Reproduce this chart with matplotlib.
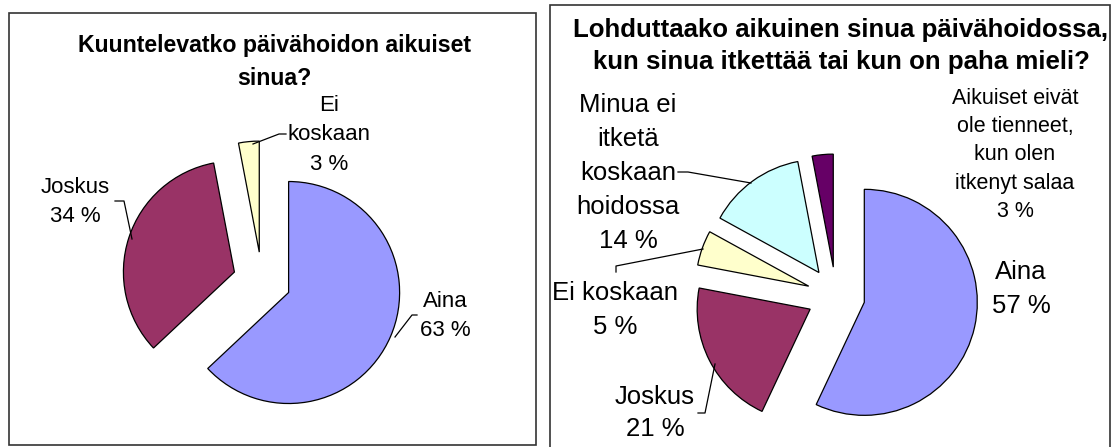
import numpy as np
import matplotlib
matplotlib.use("Agg")
import matplotlib.pyplot as plt
from matplotlib.patches import Rectangle

plt.rcParams['font.family'] = ['Liberation Sans', 'DejaVu Sans']

W, H = 1118, 447

# left chart: "Kuuntelevatko päivähoidon aikuiset sinua?"
left_labels = ["Aina", "Joskus", "Ei\nkoskaan"]
left_values = [63, 34, 3]
left_colors = ["#9999FF", "#993366", "#FFFFCC"]

# right chart: "Lohduttaako aikuinen sinua ..."
right_labels = ["Aina", "Joskus", "Ei koskaan",
                "Minua ei\nitketä\nkoskaan\nhoidossa",
                "Aikuiset eivät\nole tienneet,\nkun olen\nitkenyt salaa"]
right_values = [57, 21, 5, 14, 3]
right_colors = ["#9999FF", "#993366", "#FFFFCC", "#CCFFFF", "#660066"]

fig = plt.figure(figsize=(W / 100, H / 100), dpi=100)
ax = fig.add_axes([0, 0, 1, 1])


def Y(y):
    # pixel row (from top) -> data y
    return H - y


wp = dict(edgecolor="black", linewidth=0.9)
ax.pie(left_values, colors=left_colors, startangle=90, counterclock=False,
       radius=111, center=(262, Y(281)), explode=[29] * 3, wedgeprops=wp,
       frame=True)
ax.pie(right_values, colors=right_colors, startangle=90, counterclock=False,
       radius=113, center=(836, Y(296)), explode=[29] * 5, wedgeprops=wp,
       frame=True)

ax.set_xlim(0, W)
ax.set_ylim(0, H)
ax.set_aspect("equal")
ax.axis("off")

# panel borders
ax.add_patch(Rectangle((9, Y(445)), 527, 432, fill=False, edgecolor="#333333", lw=1.2))
ax.add_patch(Rectangle((550, Y(460)), 560, 455, fill=False, edgecolor="#333333", lw=1.2,
                       clip_on=False))

# titles
ax.text(274, Y(62), "Kuuntelevatko päivähoidon aikuiset\nsinua?", ha="center",
        va="center", fontsize=16.7, fontweight="bold", linespacing=1.54)
ax.text(841, Y(46), "Lohduttaako aikuinen sinua päivähoidossa,\n"
        "kun sinua itkettää tai kun on paha mieli?", ha="center", va="center",
        fontsize=18.6, fontweight="bold", linespacing=1.4)

# left data labels
lp = [(445, 316), (75, 202), (329, 135)]
for (x, y), lab, v in zip(lp, left_labels, left_values):
    ax.text(x, Y(y), f"{lab}\n{v} %", ha="center", va="center",
            fontsize=16, linespacing=1.55)

# right data labels
rp = [(1021, 289), (655, 413), (615, 310), (628, 173), (1015, 155)]
rfs = [18.5, 18.5, 18.5, 18.5, 15.5]
rls = [1.57, 1.47, 1.52, 1.52, 1.46]
for (x, y), lab, v, fs, ls in zip(rp, right_labels, right_values, rfs, rls):
    ax.text(x, Y(y), f"{lab}\n{v} %", ha="center", va="center",
            fontsize=fs, linespacing=ls)

# leader lines
leaders = [
    [(115, 201), (124, 201), (132, 239)],
    [(253, 144), (279, 134), (286, 134)],
    [(395, 337), (412, 315), (417, 315)],
    [(678, 172), (688, 172), (751, 183)],
    [(616, 272), (616, 266), (703, 249)],
    [(698, 413), (705, 413), (715, 364)],
]
for pts in leaders:
    xs, ys = zip(*pts)
    ax.plot(xs, [Y(v) for v in ys], color="black", lw=0.9)

fig.savefig("out.png", dpi=100)
